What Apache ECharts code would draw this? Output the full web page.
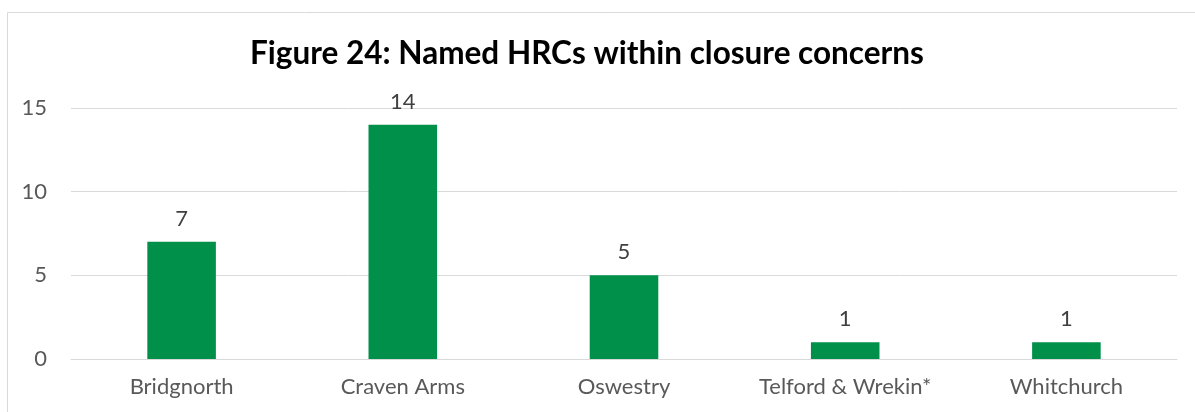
<!DOCTYPE html>
<html>
<head>
<meta charset="utf-8">
<script src="https://cdn.jsdelivr.net/npm/echarts@6/dist/echarts.min.js"></script>
<style>
  html, body { margin: 0; padding: 0; background: #ffffff; }
  #chart { width: 1195px; height: 412px; }
</style>
</head>
<body>
<div id="chart"></div>
<script>
// HRC sites named in closure concerns
const categories = ['Bridgnorth', 'Craven Arms', 'Oswestry', 'Telford & Wrekin*', 'Whitchurch'];
const concernCounts = [7, 14, 5, 1, 1];
const yTicks = [0, 5, 10, 15];

const chart = echarts.init(document.getElementById('chart'));
const fontFamily = 'Lato, "Open Sans", "Noto Sans", sans-serif';

chart.setOption({
  animation: false,
  backgroundColor: '#ffffff',
  graphic: [{
    type: 'rect',
    shape: { x: 7.5, y: 12.5, width: 1200, height: 420 },
    style: { fill: 'none', stroke: '#d9d9d9', lineWidth: 1 },
    silent: true
  }],
  title: {
    text: 'Figure 24: Named HRCs within closure concerns',
    left: 582,
    top: 33,
    textAlign: 'center',
    textStyle: { fontFamily, fontSize: 31.5, fontWeight: 'bold', color: '#000000' }
  },
  grid: { left: 71, right: 18, top: 108, bottom: 53, containLabel: false },
  xAxis: {
    type: 'category',
    data: categories,
    axisLine: { lineStyle: { color: '#d9d9d9', width: 1 } },
    axisTick: { show: false },
    axisLabel: { fontFamily, fontSize: 22, color: '#595959', margin: 17, interval: 0, hideOverlap: false }
  },
  yAxis: {
    type: 'value',
    min: yTicks[0],
    max: yTicks[yTicks.length - 1],
    interval: 5,
    axisLine: { show: false },
    axisTick: { show: false },
    splitLine: { lineStyle: { color: '#d9d9d9', width: 1 } },
    axisLabel: { fontFamily, fontSize: 22, color: '#595959', margin: 24, align: 'right' }
  },
  series: [{
    type: 'bar',
    data: concernCounts,
    barWidth: '31%',
    itemStyle: { color: '#00904a' },
    label: {
      show: true,
      position: 'top',
      distance: 12,
      fontFamily,
      fontSize: 22,
      color: '#404040'
    }
  }]
});
</script>
</body>
</html>
